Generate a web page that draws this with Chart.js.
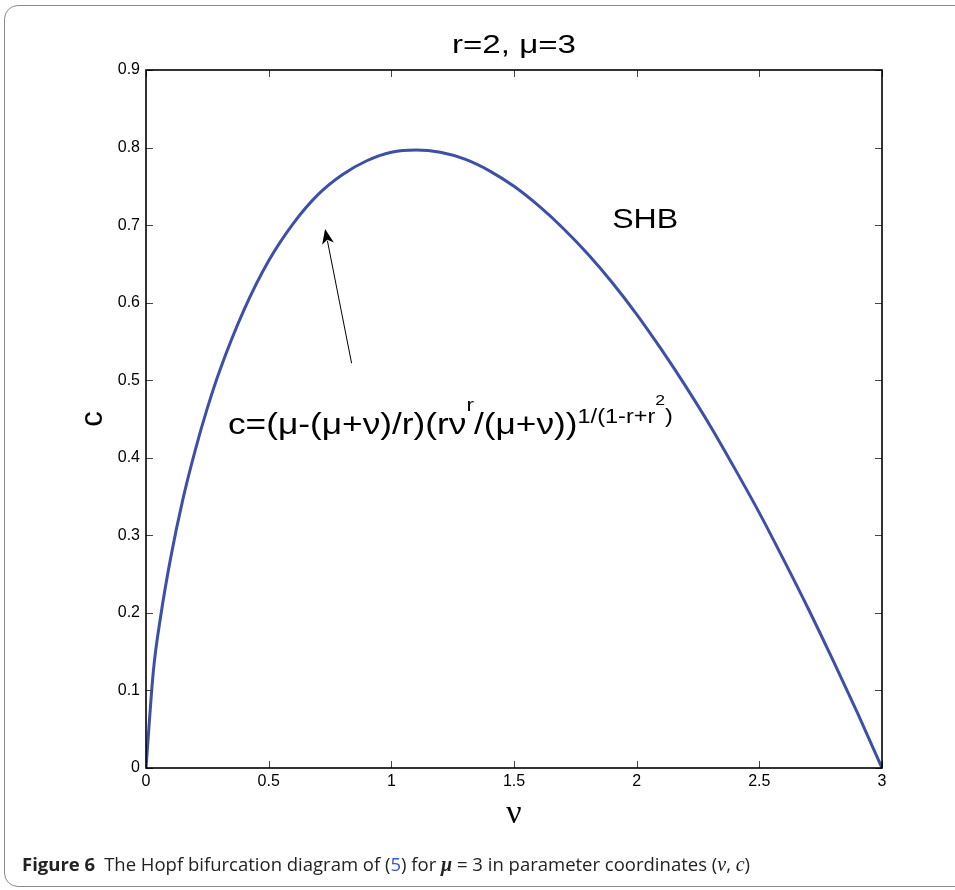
<!DOCTYPE html>
<html>
<head>
<meta charset="utf-8">
<title>Hopf bifurcation diagram</title>
<script src="https://cdn.jsdelivr.net/npm/chart.js@4.4.0/dist/chart.umd.min.js"></script>
<style>
  html, body { margin: 0; padding: 0; background: #fff; }
  body { width: 955px; height: 890px; position: relative; overflow: hidden; }
  #frame {
    position: absolute; left: 4px; top: 5px; width: 1000px; height: 882px;
    border: 1.5px solid #8c8c8c; border-radius: 14px; box-sizing: border-box;
  }
  #chart { position: absolute; left: 0; top: 0; }
  #caption {
    position: absolute; left: 22px; top: 851px; white-space: nowrap;
    font-family: 'Open Sans', sans-serif; font-size: 18.5px; color: #222; letter-spacing: 0;
  }
  #caption b { font-weight: 700; margin-right: 9px; }
  #caption .ref { color: #3a56c8; }
  #caption .m { font-family: 'Liberation Serif', serif; font-style: italic; font-size: 20px; }
</style>
</head>
<body>
<div id="frame"></div>
<canvas id="chart" width="955" height="890"></canvas>
<div id="caption"><b>Figure 6</b>The Hopf bifurcation diagram of (<span class="ref">5</span>) for <span class="m"><b style="margin:0">μ</b></span> = 3 in parameter coordinates (<span class="m">ν</span>, <span class="m">c</span>)</div>

<script>
// values
const nuValues = [0, 0.03, 0.06, 0.1, 0.15, 0.2, 0.25, 0.3, 0.4, 0.5, 0.6, 0.7, 0.8, 0.9, 1.0,
  1.1, 1.2, 1.3, 1.4, 1.5, 1.6, 1.7, 1.8, 1.9, 2.0, 2.1, 2.2, 2.3, 2.4, 2.5, 2.6, 2.7, 2.8, 2.9, 3.0]
const cValues = [0, 0.125, 0.196, 0.270, 0.346, 0.409, 0.464, 0.512, 0.591, 0.654, 0.702, 0.739, 0.765, 0.783, 0.794,
  0.797, 0.794, 0.785, 0.770, 0.750, 0.725, 0.696, 0.663, 0.626, 0.585, 0.540, 0.492, 0.441, 0.386, 0.329, 0.268, 0.205, 0.139, 0.071, 0]
const xTicks = [0, 0.5, 1, 1.5, 2, 2.5, 3]
const yTicks = [0, 0.1, 0.2, 0.3, 0.4, 0.5, 0.6, 0.7, 0.8, 0.9]
const xTickLabels = ['0', '0.5', '1', '1.5', '2', '2.5', '3']
const yTickLabels = ['0', '0.1', '0.2', '0.3', '0.4', '0.5', '0.6', '0.7', '0.8', '0.9']

const chartTitle = 'r=2, μ=3'
const curveLabel = 'SHB'
// formula pieces: text, font size, raise above baseline
const formulaRuns = [
  ['c=(μ-(μ+ν)/r)(rν', 30, 0],
  ['r', 19, 23],
  ['/(μ+ν))', 30, 0],
  ['1/(1-r+r', 20, 11],
  ['2', 15, 29],
  [')', 20, 11]
]
const arrowFrom = { x: 0.838, y: 0.522 }
const arrowTo = { x: 0.730, y: 0.695 }
const formulaAt = { x: 0.334, y: 0.431 }
const labelAt = { x: 1.9, y: 0.696 }

const FONT = "'Liberation Sans', Arial, Helvetica, sans-serif"

// draw text stretched horizontally to a given width
function stretchedText(ctx, text, size, x, y, width, align) {
  ctx.font = size + 'px ' + FONT
  const w = ctx.measureText(text).width
  const s = width / w
  ctx.save()
  ctx.translate(align === 'center' ? x - width / 2 : x, y)
  ctx.scale(s, 1)
  ctx.textAlign = 'left'
  ctx.textBaseline = 'alphabetic'
  ctx.fillText(text, 0, 0)
  ctx.restore()
}

const figureDecor = {
  id: 'figureDecor',
  afterDraw(chart) {
    const { ctx, chartArea: a, scales: { x, y } } = chart
    ctx.save()

    // inward tick marks on all four sides
    ctx.strokeStyle = '#444'
    ctx.lineWidth = 1
    ctx.beginPath()
    xTicks.forEach(v => {
      const px = Math.round(x.getPixelForValue(v)) + 0.5
      ctx.moveTo(px, a.bottom); ctx.lineTo(px, a.bottom - 7)
      ctx.moveTo(px, a.top); ctx.lineTo(px, a.top + 7)
    })
    yTicks.forEach(v => {
      const py = Math.round(y.getPixelForValue(v)) + 0.5
      ctx.moveTo(a.left, py); ctx.lineTo(a.left + 7, py)
      ctx.moveTo(a.right, py); ctx.lineTo(a.right - 7, py)
    })
    ctx.stroke()

    // axes box
    ctx.strokeStyle = '#000'
    ctx.lineWidth = 1.6
    ctx.strokeRect(a.left, a.top, a.right - a.left, a.bottom - a.top)

    ctx.fillStyle = '#000'
    // title
    stretchedText(ctx, chartTitle, 25, (a.left + a.right) / 2, 53, 124, 'center')

    // SHB label
    stretchedText(ctx, curveLabel, 28, x.getPixelForValue(labelAt.x), y.getPixelForValue(labelAt.y), 66, 'left')

    // formula, drawn run by run with the same horizontal stretch
    const fx = x.getPixelForValue(formulaAt.x)
    const fy = y.getPixelForValue(formulaAt.y)
    let natural = 0
    formulaRuns.forEach(([t, size]) => {
      ctx.font = size + 'px ' + FONT
      natural += ctx.measureText(t).width
    })
    const s = 445 / natural
    let cx = fx
    formulaRuns.forEach(([t, size, raise]) => {
      ctx.font = size + 'px ' + FONT
      const w = ctx.measureText(t).width
      ctx.save()
      ctx.translate(cx, fy - raise)
      ctx.scale(s, 1)
      ctx.fillText(t, 0, 0)
      ctx.restore()
      cx += w * s
    })

    // arrow
    const x0 = x.getPixelForValue(arrowFrom.x), y0 = y.getPixelForValue(arrowFrom.y)
    const x1 = x.getPixelForValue(arrowTo.x), y1 = y.getPixelForValue(arrowTo.y)
    const ang = Math.atan2(y1 - y0, x1 - x0)
    const len = 15, half = 6
    const bx = x1 - len * Math.cos(ang), by = y1 - len * Math.sin(ang)
    ctx.strokeStyle = '#000'
    ctx.lineWidth = 1
    ctx.beginPath()
    ctx.moveTo(x0, y0)
    ctx.lineTo(bx + 3 * Math.cos(ang), by + 3 * Math.sin(ang))
    ctx.stroke()
    ctx.beginPath()
    ctx.moveTo(x1, y1)
    ctx.lineTo(bx - half * Math.sin(ang), by + half * Math.cos(ang))
    ctx.lineTo(bx + 4 * Math.cos(ang), by + 4 * Math.sin(ang))
    ctx.lineTo(bx + half * Math.sin(ang), by - half * Math.cos(ang))
    ctx.closePath()
    ctx.fill()

    ctx.restore()
  }
}

const points = nuValues.map((v, i) => ({ x: v, y: cValues[i] }))

new Chart(document.getElementById('chart'), {
  type: 'scatter',
  data: {
    datasets: [{
      label: 'SHB',
      data: points,
      showLine: true,
      borderColor: '#3d4fa6',
      borderWidth: 3,
      pointRadius: 0,
      cubicInterpolationMode: 'monotone'
    }]
  },
  options: {
    responsive: false,
    animation: false,
    devicePixelRatio: 1,
    layout: { padding: { top: 70, right: 73, bottom: 22, left: 0 } },
    plugins: {
      legend: { display: false },
      tooltip: { enabled: false }
    },
    scales: {
      x: {
        type: 'linear',
        min: 0,
        max: 3,
        afterFit: scale => { scale.height = 100 },
        afterBuildTicks: scale => { scale.ticks = xTicks.map(v => ({ value: v })) },
        grid: { display: false, drawTicks: false },
        border: { display: false },
        ticks: {
          padding: 4,
          color: '#000',
          font: { family: FONT, size: 16 },
          callback: (v, i) => xTickLabels[i]
        },
        title: {
          display: true,
          text: 'ν',
          color: '#000',
          font: { family: "'Liberation Serif', serif", size: 34 },
          padding: { top: 0, bottom: 34 }
        }
      },
      y: {
        type: 'linear',
        min: 0,
        max: 0.9,
        afterFit: scale => { scale.width = 146 },
        afterBuildTicks: scale => { scale.ticks = yTicks.map(v => ({ value: v })) },
        grid: { display: false, drawTicks: false },
        border: { display: false },
        ticks: {
          padding: 6,
          color: '#000',
          font: { family: FONT, size: 16 },
          callback: (v, i) => yTickLabels[i]
        },
        title: {
          display: true,
          text: 'c',
          color: '#000',
          font: { family: FONT, size: 31 },
          padding: { top: 75, bottom: 0 }
        }
      }
    }
  },
  plugins: [figureDecor]
})
</script>
</body>
</html>
